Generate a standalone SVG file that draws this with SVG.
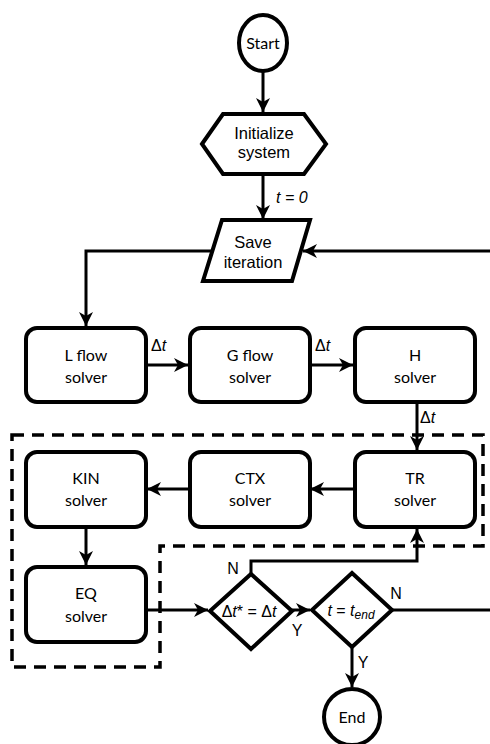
<svg xmlns="http://www.w3.org/2000/svg" width="490" height="744" viewBox="0 0 490 744">
<style>
.shape{fill:#fff;stroke:#000;stroke-width:4;stroke-linejoin:miter}
.box{fill:#fff;stroke:#000;stroke-width:4}
.conn{fill:none;stroke:#000;stroke-width:3}
.dash{fill:none;stroke:#000;stroke-width:3.5;stroke-dasharray:12 8}
.t1{font-family:"Liberation Sans",Arial,sans-serif;font-size:16.5px;text-anchor:middle;fill:#000}
.t2{font-family:Lato,"Open Sans",sans-serif;font-size:16px;text-anchor:middle;fill:#000}
.lab{font-family:"Liberation Sans",Arial,sans-serif;font-size:16px;fill:#000}
.it{font-style:italic}
</style>
<defs>
<marker id="arr" markerUnits="userSpaceOnUse" markerWidth="16" markerHeight="16" refX="14" refY="7" orient="auto">
<path d="M0,0 L14,7 L0,14 L4,7 z" fill="#000"/>
</marker>
</defs>
<rect width="490" height="744" fill="#fff"/>
<g id="scope">
<path class="dash" d="M12,435 H483 V546 H160 V667 H12 Z"/>
</g>
<g id="connectors">
<line class="conn" x1="263" y1="72" x2="263" y2="112" marker-end="url(#arr)"/>
<line class="conn" x1="263" y1="174" x2="263" y2="219" marker-end="url(#arr)"/>
<polyline class="conn" points="212,251 86,251 86,326" marker-end="url(#arr)"/>
<line class="conn" x1="490" y1="251" x2="303" y2="251" marker-end="url(#arr)"/>
<line class="conn" x1="146" y1="365" x2="188" y2="365" marker-end="url(#arr)"/>
<line class="conn" x1="310" y1="365" x2="353" y2="365" marker-end="url(#arr)"/>
<line class="conn" x1="417" y1="402" x2="417" y2="450" marker-end="url(#arr)"/>
<line class="conn" x1="355" y1="489" x2="310" y2="489" marker-end="url(#arr)"/>
<line class="conn" x1="190" y1="489" x2="147" y2="489" marker-end="url(#arr)"/>
<line class="conn" x1="86" y1="527" x2="86" y2="565" marker-end="url(#arr)"/>
<line class="conn" x1="146" y1="610" x2="208" y2="610" marker-end="url(#arr)"/>
<line class="conn" x1="292" y1="610" x2="310" y2="610" marker-end="url(#arr)"/>
<polyline class="conn" points="251,574 251,561 417,561 417,529" marker-end="url(#arr)"/>
<line class="conn" x1="392" y1="610" x2="490" y2="610"/>
<line class="conn" x1="352" y1="647" x2="352" y2="687" marker-end="url(#arr)"/>
</g>
<g id="start">
<ellipse class="shape" cx="263" cy="43" rx="24" ry="28"/>
<text class="t2" x="263" y="49">Start</text>
</g>
<g id="init">
<polygon class="shape" points="202,144 223,114 304,114 326,144 304,174 223,174"/>
<text class="t1" x="264" y="139">Initialize</text>
<text class="t1" x="264" y="158">system</text>
</g>
<g id="save">
<polygon class="shape" points="222,220 310,220 292,281 203,281"/>
<text class="t1" x="253" y="248">Save</text>
<text class="t1" x="253" y="268">iteration</text>
</g>
<g id="lflow">
<rect class="box" x="26" y="328" width="120" height="74" rx="11"/>
<text class="t2" x="86" y="361">L flow</text>
<text class="t2" x="86" y="383">solver</text>
</g>
<g id="gflow">
<rect class="box" x="190" y="328" width="120" height="74" rx="11"/>
<text class="t2" x="250" y="361">G flow</text>
<text class="t2" x="250" y="383">solver</text>
</g>
<g id="h">
<rect class="box" x="355" y="328" width="120" height="74" rx="11"/>
<text class="t2" x="415" y="361">H</text>
<text class="t2" x="415" y="383">solver</text>
</g>
<g id="tr">
<rect class="box" x="355" y="452" width="120" height="75" rx="11"/>
<text class="t2" x="415" y="484">TR</text>
<text class="t2" x="415" y="506">solver</text>
</g>
<g id="ctx">
<rect class="box" x="190" y="452" width="120" height="75" rx="11"/>
<text class="t2" x="250" y="484">CTX</text>
<text class="t2" x="250" y="506">solver</text>
</g>
<g id="kin">
<rect class="box" x="26" y="452" width="120" height="75" rx="11"/>
<text class="t2" x="86" y="484">KIN</text>
<text class="t2" x="86" y="506">solver</text>
</g>
<g id="eq">
<rect class="box" x="26" y="567" width="120" height="75" rx="11"/>
<text class="t2" x="86" y="599">EQ</text>
<text class="t2" x="86" y="622">solver</text>
</g>
<g id="dec1">
<polygon class="shape" points="251,574 292,611 251,649 210,611"/>
<text class="lab" x="249" y="617" text-anchor="middle">Δ<tspan class="it">t</tspan>* = Δ<tspan class="it">t</tspan></text>
</g>
<g id="dec2">
<polygon class="shape" points="352,573 392,610 352,647 312,610"/>
<text class="lab" x="351" y="616" text-anchor="middle"><tspan class="it">t</tspan> = <tspan class="it">t</tspan><tspan class="it" font-size="12" dy="3">end</tspan></text>
</g>
<g id="end">
<ellipse class="shape" cx="352" cy="717" rx="28" ry="28"/>
<text class="t2" x="352" y="723">End</text>
</g>
<g id="labels">
<text class="lab it" x="276" y="203">t = 0</text>
<text class="lab" x="151" y="351">Δ<tspan class="it">t</tspan></text>
<text class="lab" x="315" y="351">Δ<tspan class="it">t</tspan></text>
<text class="lab" x="420" y="423">Δ<tspan class="it">t</tspan></text>
<text class="lab" x="233" y="574" text-anchor="middle">N</text>
<text class="lab" x="297" y="636" text-anchor="middle">Y</text>
<text class="lab" x="396" y="599" text-anchor="middle">N</text>
<text class="lab" x="363" y="668" text-anchor="middle">Y</text>
</g>
</svg>
